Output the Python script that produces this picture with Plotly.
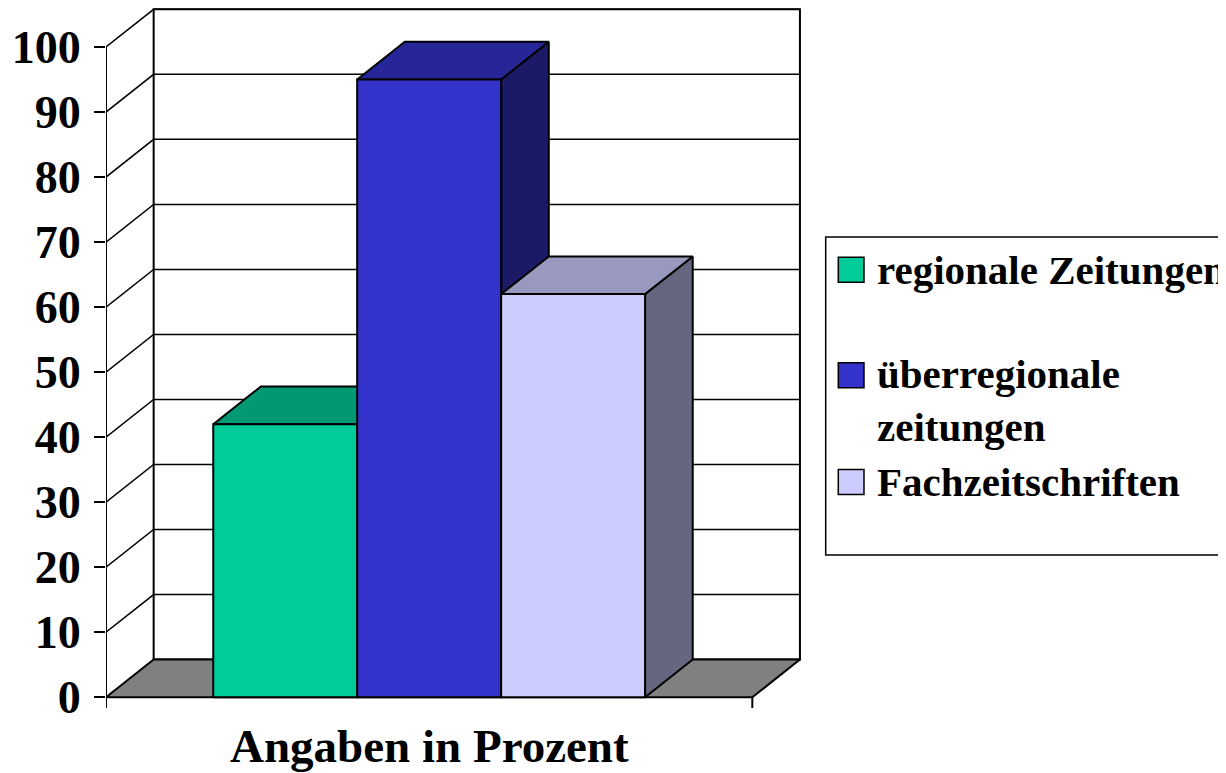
import plotly.graph_objects as go

# ---------------- data ----------------
categories = ["regionale Zeitungen", "überregionale<br>zeitungen", "Fachzeitschriften"]
values = [42, 95, 62]
front_colors = ["#00CC99", "#3333CC", "#CCCCFF"]
top_colors = ["#009973", "#262699", "#9999BF"]
side_colors = ["#006650", "#1A1A66", "#666680"]
y_ticks = [0, 10, 20, 30, 40, 50, 60, 70, 80, 90, 100]
x_title = "Angaben in Prozent"

# ---------------- geometry / style ----------------
W, H = 1226, 773
OFF = 8                      # page body margin offset of the figure in the window
FONT = "Liberation Serif, Times New Roman, serif"
PX0, PXU = 213.0, 144.0      # screen pixel of x=0, pixels per bar width
PY0, PYU = 697.3, 6.5        # screen pixel of value 0, pixels per value unit
DX = 0.331                   # depth offset in bar widths
DY = 5.8                     # depth offset in value units
GAP = 0.745
n = len(values)
x_left, x_right = -GAP, n + GAP
y_top = y_ticks[-1]
TICK_DN = 1.65               # tick length below floor, in value units

xr = [x_left, 4.25]
yr = [-1.8, 106.0]
# plot area edges in screen pixels
L = PX0 + PXU * xr[0]
R = PX0 + PXU * xr[1]
T = PY0 - PYU * yr[1]
B = PY0 - PYU * yr[0]


def pxp(px):
    return (px - L) / (R - L)


def pyp(py):
    return (B - py) / (B - T)


fig = go.Figure()


def poly(xs, ys, fill, lw=2.0):
    fig.add_trace(go.Scatter(
        x=list(xs) + [xs[0]], y=list(ys) + [ys[0]], mode="lines",
        fill="toself", fillcolor=fill,
        line=dict(color="black", width=lw), hoverinfo="skip", showlegend=False))


def lines(xs, ys, lw=1.5):
    fig.add_trace(go.Scatter(
        x=xs, y=ys, mode="lines", line=dict(color="black", width=lw),
        hoverinfo="skip", showlegend=False))


# back wall
poly([x_left + DX, x_right + DX, x_right + DX, x_left + DX],
     [DY, DY, y_top + DY, y_top + DY], "white", lw=2)

# gridlines on back wall and left wall
gx, gy = [], []
for v in y_ticks[1:]:
    gx += [x_left, x_left + DX, x_right + DX, None]
    gy += [v, v + DY, v + DY, None]
lines(gx, gy, lw=1.5)

# left axis line + x ticks
lines([x_left, x_left, None, x_left, x_left, None, x_right, x_right],
      [0, y_top, None, 0, -TICK_DN, None, 0, -TICK_DN], lw=2)

# floor
poly([x_left, x_right, x_right + DX, x_left + DX], [0, 0, DY, DY], "#808080", lw=2)

# bars (3D)
for i, v in enumerate(values):
    x0, x1 = i, i + 1
    poly([x1, x1 + DX, x1 + DX, x1], [0, DY, v + DY, v], side_colors[i])
    poly([x0, x1, x1 + DX, x0 + DX], [v, v, v + DY, v + DY], top_colors[i])
    poly([x0, x1, x1, x0], [0, 0, v, v], front_colors[i])

# ---------------- legend (manual) ----------------
shapes = [dict(type="rect", xref="paper", yref="paper",
               x0=pxp(825.7), x1=pxp(1250), y0=pyp(555), y1=pyp(237.3),
               line=dict(color="black", width=1.5), fillcolor="rgba(0,0,0,0)")]
annotations = []
leg_cy = [270, 375.5, 482]
for i, name in enumerate(categories):
    cy = leg_cy[i]
    shapes.append(dict(type="rect", xref="paper", yref="paper",
                       x0=pxp(838.3), x1=pxp(864), y0=pyp(cy + 12.5), y1=pyp(cy - 12.5),
                       line=dict(color="black", width=1.5), fillcolor=front_colors[i]))
    n_lines = name.count("<br>") + 1
    annotations.append(dict(
        xref="paper", yref="paper", x=pxp(875), y=pyp(cy), text=name,
        xanchor="left", yanchor="top" if n_lines > 1 else "middle",
        yshift=26 if n_lines > 1 else 0,
        align="left", showarrow=False,
        font=dict(family=FONT, size=41, color="black", weight="bold")))

annotations.append(dict(
    xref="x", yref="paper", x=(x_left + x_right) / 2, y=pyp(746),
    text=x_title, xanchor="center", yanchor="middle", showarrow=False,
    font=dict(family=FONT, size=47, color="black", weight="bold")))

fig.update_layout(
    width=W, height=H,
    margin=dict(l=L - OFF, r=W - (R - OFF), t=max(T - OFF, 0), b=H - (B - OFF),
                autoexpand=False),
    paper_bgcolor="white", plot_bgcolor="white",
    showlegend=False,
    shapes=shapes, annotations=annotations,
    xaxis=dict(range=xr, showgrid=False, zeroline=False, showline=False,
               showticklabels=False, ticks="", fixedrange=True),
    yaxis=dict(range=yr, showgrid=False, zeroline=False, showline=False,
               tickmode="array", tickvals=y_ticks, ticktext=[str(t) for t in y_ticks],
               ticks="outside", ticklen=11, tickwidth=2, tickcolor="black",
               ticklabelstandoff=4,
               tickfont=dict(family=FONT, size=46, color="black", weight="bold"),
               fixedrange=True),
)

fig.write_html("out.html")
